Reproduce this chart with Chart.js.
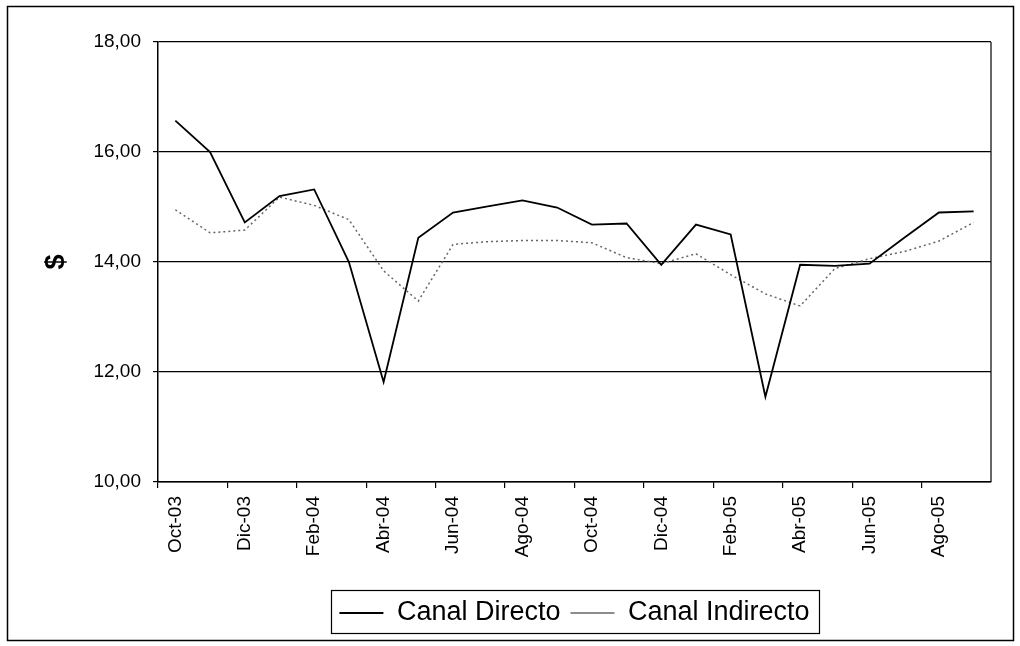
<!DOCTYPE html>
<html>
<head>
<meta charset="utf-8">
<script src="https://cdn.jsdelivr.net/npm/chart.js@4.4.1/dist/chart.umd.min.js"></script>
<style>
  html, body { margin: 0; padding: 0; background: #fff; }
  #wrap { width: 1020px; height: 646px; position: relative; }
</style>
</head>
<body>
<div id="wrap"><canvas id="c"></canvas></div>
<script>
const months = ["Oct-03","Nov-03","Dic-03","Ene-04","Feb-04","Mar-04","Abr-04","May-04","Jun-04","Jul-04","Ago-04","Sep-04",
                "Oct-04","Nov-04","Dic-04","Ene-05","Feb-05","Mar-05","Abr-05","May-05","Jun-05","Jul-05","Ago-05","Sep-05"];
const canalDirecto   = [16.57, 16.00, 14.72, 15.20, 15.32, 14.00, 11.82, 14.44, 14.90, 15.01, 15.12, 14.99,
                        14.68, 14.70, 13.95, 14.68, 14.50, 11.55, 13.95, 13.93, 13.97, 14.44, 14.90, 14.92];
const canalIndirecto = [14.95, 14.53, 14.58, 15.18, 15.03, 14.77, 13.84, 13.29, 14.32, 14.37, 14.39, 14.39,
                        14.35, 14.08, 13.97, 14.15, 13.77, 13.42, 13.20, 13.88, 14.06, 14.19, 14.38, 14.72];
const yMin = 10, yMax = 18, yStep = 2;
const seriesNames = ["Canal Directo", "Canal Indirecto"];
const yTitle = "$";

const FONT = "'Liberation Sans', Arial, sans-serif";

const decor = {
  id: 'decor',
  afterDraw(chart) {
    const {ctx, chartArea: a, legend} = chart;
    ctx.save();
    ctx.strokeStyle = '#000';
    ctx.lineWidth = 1.2;
    ctx.setLineDash([]);
    ctx.beginPath();
    ctx.moveTo(a.right, a.top);
    ctx.lineTo(a.right, a.bottom);
    ctx.stroke();
    const hb = legend.legendHitBoxes;
    if (hb && hb.length) {
      const last = hb[hb.length - 1];
      const l = hb[0].left - 8;
      const r = last.left + last.width + 10;
      const cy = hb[0].top + hb[0].height / 2;
      ctx.lineWidth = 1.2;
      ctx.strokeRect(Math.round(l) + 0.5, Math.round(cy - 23) + 0.5, Math.round(r - l), 43);
    }
    ctx.lineWidth = 1.5;
    ctx.strokeRect(7.5, 6.5, 1006, 634);
    ctx.restore();
  }
};

new Chart(document.getElementById('c'), {
  type: 'line',
  data: {
    labels: months,
    datasets: [
      {
        label: seriesNames[0],
        data: canalDirecto,
        borderColor: '#000',
        borderWidth: 1.8,
        pointRadius: 0,
        pointStyle: 'line',
        tension: 0,
        fill: false
      },
      {
        label: seriesNames[1],
        data: canalIndirecto,
        borderColor: '#666',
        borderWidth: 1.5,
        borderDash: [2, 3],
        pointRadius: 0,
        pointStyle: 'line',
        tension: 0,
        fill: false
      }
    ]
  },
  options: {
    responsive: true,
    maintainAspectRatio: false,
    animation: false,
    layout: { padding: { left: 0, right: 29, top: 42, bottom: 9.5 } },
    plugins: {
      tooltip: { enabled: false },
      title: { display: false },
      legend: {
        display: true,
        position: 'bottom',
        fullSize: false,
        labels: {
          usePointStyle: true,
          pointStyle: 'line',
          pointStyleWidth: 44,
          padding: 10,
          color: '#000',
          font: { family: FONT, size: 27 }
        }
      }
    },
    scales: {
      x: {
        type: 'category',
        offset: true,
        afterFit: (s) => { s.height = 107.5; },
        grid: {
          display: true,
          offset: true,
          drawOnChartArea: false,
          drawTicks: true,
          tickLength: 6,
          color: (ctx) => (ctx.index % 2 === 0 ? '#000' : 'rgba(0,0,0,0)'),
          lineWidth: 1.2
        },
        border: { display: true, color: '#000', width: 1.5 },
        ticks: {
          autoSkip: false,
          minRotation: 90,
          maxRotation: 90,
          padding: 8,
          color: '#000',
          font: { family: FONT, size: 19 },
          callback: function (v, i) { return i % 2 === 0 ? months[i] : ''; }
        }
      },
      y: {
        min: yMin,
        max: yMax,
        afterFit: (s) => { s.width = 158; },
        grid: {
          color: '#000',
          lineWidth: 1.2,
          drawTicks: true,
          tickLength: 5
        },
        border: { display: true, color: '#000', width: 1.5 },
        ticks: {
          stepSize: yStep,
          padding: 12,
          color: '#000',
          font: { family: FONT, size: 19 },
          callback: (v) => v.toFixed(2).replace('.', ',')
        },
        title: {
          display: true,
          text: yTitle,
          color: '#000',
          font: { family: FONT, size: 27, weight: 'bold' },
          padding: { top: 40, bottom: 0 }
        }
      }
    }
  },
  plugins: [decor]
});
</script>
</body>
</html>
